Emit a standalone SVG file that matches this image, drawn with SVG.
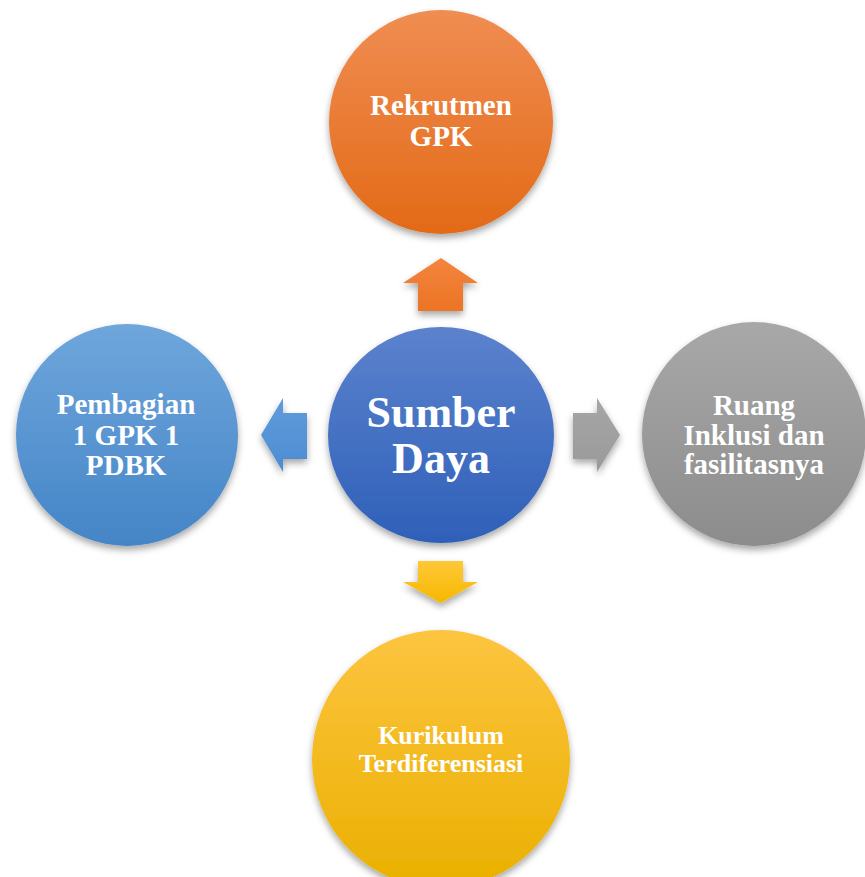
<svg xmlns="http://www.w3.org/2000/svg" width="865" height="877" viewBox="0 0 865 877">
<defs>
<linearGradient id="gOrange" x1="0" y1="0" x2="0" y2="1"><stop offset="0" stop-color="#F08D52"/><stop offset="1" stop-color="#E36A17"/></linearGradient>
<linearGradient id="gCenter" x1="0" y1="0" x2="0" y2="1"><stop offset="0" stop-color="#5C82CD"/><stop offset="1" stop-color="#2E60B9"/></linearGradient>
<linearGradient id="gLeft" x1="0" y1="0" x2="0" y2="1"><stop offset="0" stop-color="#6FA6DC"/><stop offset="1" stop-color="#4485C7"/></linearGradient>
<linearGradient id="gGray" x1="0" y1="0" x2="0" y2="1"><stop offset="0" stop-color="#A8A8A8"/><stop offset="1" stop-color="#8C8C8C"/></linearGradient>
<linearGradient id="gYellow" x1="0" y1="0" x2="0" y2="1"><stop offset="0" stop-color="#FDC440"/><stop offset="1" stop-color="#EAB000"/></linearGradient>
<linearGradient id="aOrange" x1="0" y1="0" x2="0" y2="1"><stop offset="0" stop-color="#F3853E"/><stop offset="1" stop-color="#EC7424"/></linearGradient>
<linearGradient id="aBlue" x1="0" y1="0" x2="0" y2="1"><stop offset="0" stop-color="#5F9BDB"/><stop offset="1" stop-color="#4D8CD3"/></linearGradient>
<linearGradient id="aGray" x1="0" y1="0" x2="0" y2="1"><stop offset="0" stop-color="#A6A6A6"/><stop offset="1" stop-color="#9A9A9A"/></linearGradient>
<linearGradient id="aYellow" x1="0" y1="0" x2="0" y2="1"><stop offset="0" stop-color="#FEC838"/><stop offset="1" stop-color="#F6B800"/></linearGradient>
<filter id="shadow" x="-20%" y="-20%" width="140%" height="150%">
<feDropShadow dx="0" dy="4" stdDeviation="3.5" flood-color="#000" flood-opacity="0.35"/>
</filter>
</defs>
<style>
.lbl{font-family:"Liberation Serif","Times New Roman",serif;font-weight:bold;fill:#fff;text-anchor:middle}
.s29{font-size:29px}
.s26{font-size:26px}
.s44{font-size:44px}
</style>
<rect width="865" height="877" fill="#fff"/>
<g id="connectors" filter="url(#shadow)">
<polygon id="arrow-up" points="441,258 478,283 463,283 463,311 418,311 418,283 403,283" fill="url(#aOrange)"/>
<polygon id="arrow-left" points="261,435 283,398 283,413 307,413 307,459 283,459 283,472" fill="url(#aBlue)"/>
<polygon id="arrow-right" points="620,435 597,398 597,413 573,413 573,459 597,459 597,472" fill="url(#aGray)"/>
<polygon id="arrow-down" points="441,603 478,582 463,582 463,561 418,561 418,582 403,582" fill="url(#aYellow)"/>
</g>
<g id="node-rekrutmen">
<circle cx="441" cy="122" r="112" fill="url(#gOrange)" filter="url(#shadow)"/>
<text class="lbl s29" x="441" y="115">Rekrutmen</text>
<text class="lbl s29" x="441" y="146">GPK</text>
</g>
<g id="node-sumber-daya">
<ellipse cx="441" cy="435" rx="113" ry="108" fill="url(#gCenter)" filter="url(#shadow)"/>
<text class="lbl s44" x="441" y="427">Sumber</text>
<text class="lbl s44" x="441" y="473">Daya</text>
</g>
<g id="node-pembagian">
<circle cx="127" cy="435" r="111" fill="url(#gLeft)" filter="url(#shadow)"/>
<text class="lbl s29" x="126" y="414">Pembagian</text>
<text class="lbl s29" x="126" y="445">1 GPK 1</text>
<text class="lbl s29" x="126" y="475">PDBK</text>
</g>
<g id="node-ruang">
<circle cx="754" cy="434" r="112" fill="url(#gGray)" filter="url(#shadow)"/>
<text class="lbl s29" x="754" y="415">Ruang</text>
<text class="lbl s29" x="754" y="445">Inklusi dan</text>
<text class="lbl s29" x="754" y="474">fasilitasnya</text>
</g>
<g id="node-kurikulum">
<circle cx="441" cy="759" r="129" fill="url(#gYellow)" filter="url(#shadow)"/>
<text class="lbl s26" x="441" y="744">Kurikulum</text>
<text class="lbl s26" x="441" y="772">Terdiferensiasi</text>
</g>
</svg>
